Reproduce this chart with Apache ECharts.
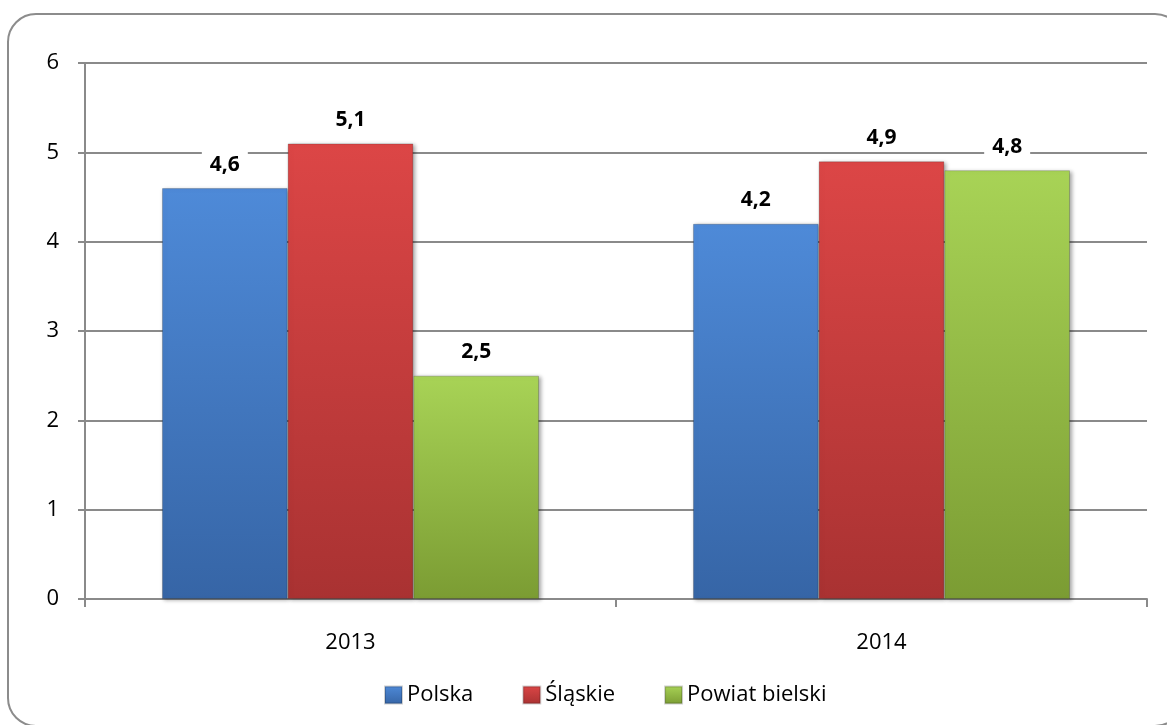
<!DOCTYPE html>
<html>
<head>
<meta charset="utf-8">
<script src="https://cdn.jsdelivr.net/npm/echarts@6/dist/echarts.min.js"></script>
<style>
  html, body { margin: 0; padding: 0; background: #fff; }
  #chart { width: 1167px; height: 725px; }
</style>
</head>
<body>
<div id="chart"></div>
<script>
const years = ['2013', '2014'];
const polska = [4.6, 4.2];
const slaskie = [5.1, 4.9];
const powiat = [2.5, 4.8];
const yTicks = { min: 0, max: 6, interval: 1 };

const fontFamily = '"Open Sans", "Noto Sans", sans-serif';
const gridColor = '#8a8a8a';

const grad = (top, bottom) => new echarts.graphic.LinearGradient(0, 0, 0, 1, [
  { offset: 0, color: top },
  { offset: 1, color: bottom }
]);

const makeSeries = (name, data, top, bottom) => ({
  name: name,
  type: 'bar',
  data: data,
  barGap: 0,
  barCategoryGap: '29%',
  itemStyle: {
    color: grad(top, bottom),
    borderColor: 'rgba(0,0,0,0.18)',
    borderWidth: 1,
    shadowColor: 'rgba(0,0,0,0.35)',
    shadowBlur: 4,
    shadowOffsetX: 2,
    shadowOffsetY: 1
  },
  label: {
    show: true,
    position: 'top',
    distance: 11,
    fontFamily: fontFamily,
    fontWeight: 'bold',
    fontSize: 21,
    color: '#000',
    backgroundColor: '#fff',
    padding: [2, 8],
    formatter: p => String(p.value.toFixed(1)).replace('.', ',')
  }
});

const chart = echarts.init(document.getElementById('chart'), null, { renderer: 'canvas' });

chart.setOption({
  animation: false,
  backgroundColor: '#fff',
  graphic: [{
    type: 'rect',
    shape: { x: 8, y: 14, width: 1175, height: 712, r: 28 },
    style: { fill: 'none', stroke: '#8c8c8c', lineWidth: 2 },
    z: 0
  }],
  grid: { left: 85, right: 20, top: 63, bottom: 126 },
  legend: {
    left: 379,
    top: 679,
    icon: 'rect',
    itemWidth: 17,
    itemHeight: 17,
    itemGap: 49,
    textStyle: { fontFamily: fontFamily, fontSize: 22, color: '#000' },
    data: ['Polska', 'Śląskie', 'Powiat bielski']
  },
  xAxis: {
    type: 'category',
    data: years,
    axisLine: { lineStyle: { color: gridColor, width: 2 } },
    axisTick: { show: true, length: 8, lineStyle: { color: gridColor, width: 2 } },
    axisLabel: { margin: 33, fontFamily: fontFamily, fontSize: 22, color: '#000' }
  },
  yAxis: {
    type: 'value',
    min: yTicks.min,
    max: yTicks.max,
    interval: yTicks.interval,
    axisLine: { show: true, lineStyle: { color: gridColor, width: 2 } },
    axisTick: { show: true, length: 7, lineStyle: { color: gridColor, width: 2 } },
    axisLabel: { margin: 26, fontFamily: fontFamily, fontSize: 22, color: '#000' },
    splitLine: { show: true, lineStyle: { color: gridColor, width: 2 } }
  },
  series: [
    makeSeries('Polska', polska, '#4e8ad8', '#3665a6'),
    makeSeries('Śląskie', slaskie, '#dc4646', '#a93232'),
    makeSeries('Powiat bielski', powiat, '#a8d356', '#7b9c33')
  ]
});
</script>
</body>
</html>
